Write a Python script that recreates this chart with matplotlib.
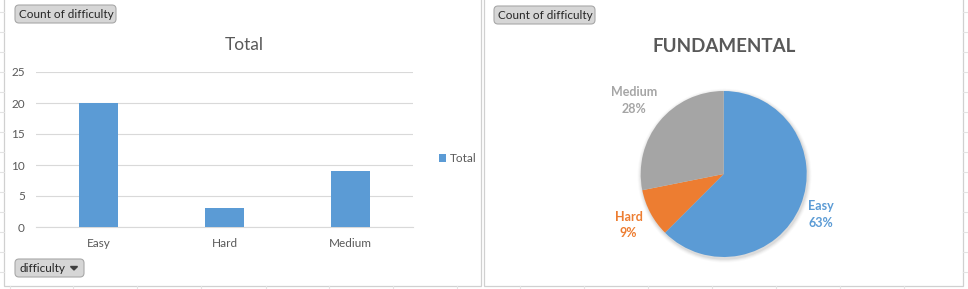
import math
import numpy as np
import matplotlib
matplotlib.use("Agg")
import matplotlib.pyplot as plt
from matplotlib.patches import FancyBboxPatch, Rectangle, Circle

# ---------------- data ----------------
categories = ["Easy", "Hard", "Medium"]
counts = [20, 3, 9]
bar_title = "Total"
legend_label = "Total"
y_ticks = [0, 5, 10, 15, 20, 25]

pie_title = "FUNDAMENTAL"
pie_labels = ["Easy", "Hard", "Medium"]
pie_values = [20, 3, 9]
pie_colors = ["#5B9BD5", "#ED7D31", "#A5A5A5"]

field_button = "Count of difficulty"
axis_button = "difficulty"

# ---------------- figure ----------------
W, H = 968, 289
fig = plt.figure(figsize=(W / 100, H / 100), dpi=100)
plt.rcParams['font.family'] = ['Lato', 'DejaVu Sans']
TXT = "#595959"


def fx(px):
    return px / W


def fy(py):
    return 1 - py / H


# background spreadsheet grid hints
bg = fig.add_axes([0, 0, 1, 1])
bg.set_xlim(0, W)
bg.set_ylim(H, 0)
bg.axis("off")
for yy in range(12, 286, 20):
    bg.plot([0, 4], [yy, yy], color="#E3E3E3", lw=0.8)
    bg.plot([963, 968], [yy, yy], color="#E3E3E3", lw=0.8)
for xx in [10, 73, 137, 201, 266, 329, 393, 457, 520, 584, 648, 712, 776, 840, 904]:
    bg.plot([xx, xx], [286, 289], color="#E3E3E3", lw=0.8)
# panel borders
bg.add_patch(Rectangle((4, -2), 477, 288, fill=False, edgecolor="#D0D0D0", lw=0.9))
bg.add_patch(Rectangle((484, -2), 479, 288, fill=False, edgecolor="#D0D0D0", lw=0.9))


def button(x0, y0, w, h, text, arrow=False):
    bg.add_patch(FancyBboxPatch((x0, y0), w, h, boxstyle="round,pad=0,rounding_size=4",
                                facecolor="#D6D6D6", edgecolor="#A8A8A8", lw=0.8))
    bg.text(x0 + 4, y0 + h / 2 + 0.5, text, fontsize=8.5, color="#262626",
            va="center", ha="left")
    if arrow:
        ax_ = x0 + w - 10
        bg.fill([ax_ - 3.5, ax_ + 3.5, ax_], [y0 + h / 2 - 1.5, y0 + h / 2 - 1.5, y0 + h / 2 + 2],
                color="#404040")


button(15, 5, 101, 18, field_button)
button(494, 6, 101, 18, field_button)
button(15, 259, 69, 18, axis_button, arrow=True)

# ---------------- bar chart ----------------
x0p, x1p, ytop, ybot = 36, 413, 72, 227
ax = fig.add_axes([fx(x0p), fy(ybot), fx(x1p - x0p), (ybot - ytop) / H])
xpos = np.arange(len(categories))
ax.bar(xpos, counts, width=0.31, color="#5B9BD5", zorder=3, label=legend_label)
ax.set_xlim(-0.5, len(categories) - 0.5)
ax.set_ylim(0, 25)
ax.set_yticks(y_ticks)
ax.set_yticklabels([str(t) for t in y_ticks])
ax.set_xticks(xpos)
ax.set_xticklabels(categories)
ax.tick_params(axis="both", length=0, labelsize=8.5, colors=TXT)
ax.tick_params(axis="y", pad=8)
ax.tick_params(axis="x", pad=8)
ax.grid(axis="y", color="#D9D9D9", lw=0.8, zorder=0)
for s in ["top", "right", "left"]:
    ax.spines[s].set_visible(False)
ax.spines["bottom"].set_color("#D9D9D9")
ax.spines["bottom"].set_linewidth(0.8)
ax.set_facecolor("none")
fig.text(fx(244), fy(45), bar_title, fontsize=12.5, color=TXT, ha="center", va="center")
ax.legend(loc="center left", bbox_to_anchor=(fx(433 - x0p) / fx(x1p - x0p), 0.44),
          frameon=False, fontsize=8.5, labelcolor=TXT, handlelength=0.6,
          handleheight=0.6, handletextpad=0.3, borderpad=0)

# ---------------- pie chart ----------------
cx, cy, R = 723.7, 174, 83
half_w, half_h = 160, 110
pax = fig.add_axes([fx(cx - half_w), fy(cy + half_h), fx(2 * half_w), 2 * half_h / H])
# soft shadow
for i, a in enumerate([0.05, 0.04, 0.03, 0.02]):
    pax.add_patch(Circle((0.01, -0.02), 1 + 0.012 * (i + 1), color="#000000", alpha=a, lw=0, zorder=0))
wedges, _ = pax.pie(pie_values, colors=pie_colors, startangle=90, counterclock=False,
                    radius=1, wedgeprops=dict(linewidth=0))
for w in wedges:
    w.set_zorder(2)
pax.set_xlim(-half_w / R, half_w / R)
pax.set_ylim(-half_h / R, half_h / R)
pax.set_aspect("equal")
pax.axis("off")
total = sum(pie_values)
label_dist = [1.27, 1.30, 1.40]
for w, name, v, col, d in zip(wedges, pie_labels, pie_values, pie_colors, label_dist):
    mid = math.radians((w.theta1 + w.theta2) / 2)
    pct = math.floor(100 * v / total + 0.5)
    pax.text(d * math.cos(mid), d * math.sin(mid), f"{name}\n{pct}%", color=col,
             fontsize=9, fontweight="bold", ha="center", va="center", linespacing=1.45)
fig.text(fx(723.7), fy(47), pie_title, fontsize=13.5, fontweight="bold", color=TXT,
         ha="center", va="center")

fig.savefig("out.png", dpi=100, facecolor="white")
